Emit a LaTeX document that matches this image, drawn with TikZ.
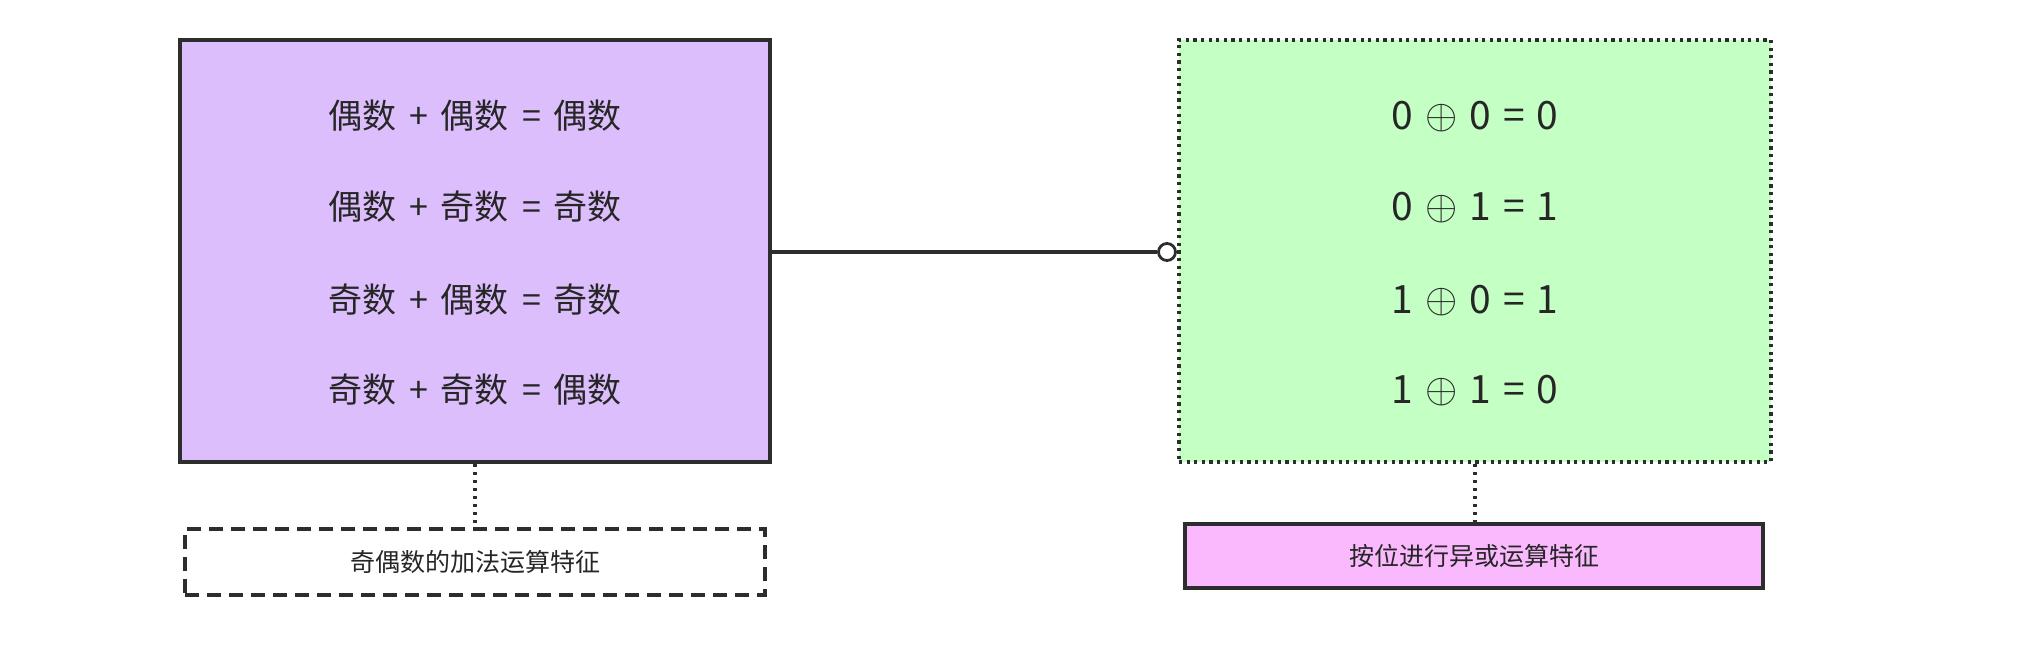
\documentclass[tikz,border=0pt]{standalone}
\usepackage{fontspec}
\setmainfont{Noto Sans CJK SC}
\definecolor{lav}{RGB}{220,190,252}
\definecolor{mint}{RGB}{196,255,196}
\definecolor{pinkbox}{RGB}{250,185,252}
\definecolor{edge}{RGB}{45,45,45}
\tikzset{
  bigbox/.style={draw=edge, line width=1.9pt, minimum width=295pt, minimum height=211pt, inner sep=0pt},
  rowtext/.style={font=\fontsize{17pt}{20pt}\selectfont, text=black!85, inner sep=0pt},
  numtext/.style={font=\fontsize{19.5pt}{22pt}\selectfont, text=black!85, inner sep=0pt},
  labeltext/.style={font=\fontsize{12.5pt}{15pt}\selectfont, text=black!85},
  dotline/.style={draw=edge, line width=1.9pt, dash pattern=on 1.6pt off 2.4pt},
  conn/.style={draw=edge, line width=1.6pt}
}
\newcommand{\gp}{\hspace{6.5pt}}
\newcommand{\xg}{\hspace{6pt}}
\newcommand{\oplussym}{\raisebox{0.4pt}{\fontsize{22pt}{22pt}\selectfont$\oplus$}}
\begin{document}
\begin{tikzpicture}[x=0.5pt,y=-0.5pt]
\useasboundingbox (0,0) rectangle (2018,648);
% main boxes
\node[bigbox, fill=lav] (lbox) at (475,251) {};
\node[bigbox, fill=mint, dash pattern=on 1.6pt off 2.2pt, minimum width=296pt] (rbox) at (1475,251) {};
% left rows
\node[rowtext] (l1) at (475,116) {偶数\gp{}+\gp{}偶数\gp{}=\gp{}偶数};
\node[rowtext] (l2) at (475,207) {偶数\gp{}+\gp{}奇数\gp{}=\gp{}奇数};
\node[rowtext] (l3) at (475,300) {奇数\gp{}+\gp{}偶数\gp{}=\gp{}奇数};
\node[rowtext] (l4) at (475,390) {奇数\gp{}+\gp{}奇数\gp{}=\gp{}偶数};
% right rows
\node[numtext, anchor=base] (r1) at (1475,129) {0\xg{}\oplussym\xg{}0\xg{}=\xg{}0};
\node[numtext, anchor=base] (r2) at (1475,220) {0\xg{}\oplussym\xg{}1\xg{}=\xg{}1};
\node[numtext, anchor=base] (r3) at (1475,313) {1\xg{}\oplussym\xg{}0\xg{}=\xg{}1};
\node[numtext, anchor=base] (r4) at (1475,403) {1\xg{}\oplussym\xg{}1\xg{}=\xg{}0};
% labels
\node[draw=edge, line width=1.7pt, dash pattern=on 7pt off 4pt, fill=white,
      minimum width=290pt, minimum height=33pt, labeltext] (llabel) at (475,562) {奇偶数的加法运算特征};
\node[draw=edge, line width=2.1pt, fill=pinkbox,
      minimum width=289pt, minimum height=32pt, labeltext] (rlabel) at (1474,556) {按位进行异或运算特征};
% connectors
\node[circle, draw=edge, line width=1.4pt, fill=white, minimum size=8.5pt, inner sep=0pt] (circ) at (1167,252) {};
\draw[conn] (lbox.east |- circ) -- (circ.west);
\draw[dotline] (lbox.south) -- (llabel.north);
\draw[dotline] (rbox.south) -- (rbox.south |- rlabel.north);
\end{tikzpicture}
\end{document}
